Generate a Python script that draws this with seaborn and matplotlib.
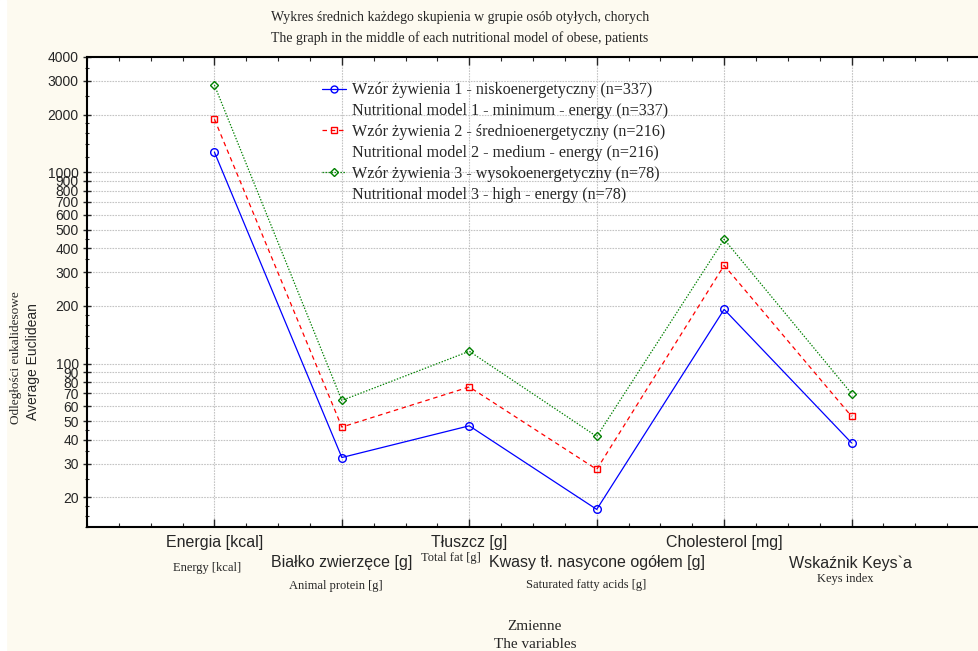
import numpy as np
import pandas as pd
import matplotlib
matplotlib.use("Agg")
import matplotlib.pyplot as plt
import matplotlib.ticker as mticker
from matplotlib.lines import Line2D
from matplotlib.patches import Rectangle
import seaborn as sns

# ---- data ----
categories_pl = ["Energia [kcal]", "Białko zwierzęce [g]", "Tłuszcz [g]",
                 "Kwasy tł. nasycone ogółem [g]", "Cholesterol [mg]", "Wskaźnik Keys`a"]
categories_en = ["Energy [kcal]", "Animal protein [g]", "Total fat [g]",
                 "Saturated fatty acids [g]", "", "Keys index"]
model_names = ["Wzór żywienia 1 - niskoenergetyczny (n=337)",
               "Wzór żywienia 2 - średnioenergetyczny (n=216)",
               "Wzór żywienia 3 - wysokoenergetyczny (n=78)"]
model_names_en = ["Nutritional model 1 - minimum - energy (n=337)",
                  "Nutritional model 2 - medium - energy (n=216)",
                  "Nutritional model 3 - high - energy (n=78)"]
model1 = [1273, 32.3, 47.3, 17.3, 192, 38.5]
model2 = [1894, 46.6, 75.5, 28.0, 326, 53.0]
model3 = [2852, 64.2, 116, 41.6, 446, 69.7]
y_ticks = [20, 30, 40, 50, 60, 70, 80, 90, 100, 200, 300, 400, 500, 600, 700,
           800, 900, 1000, 2000, 3000, 4000]

positions = np.arange(1, len(categories_pl) + 1)
rows = []
for name, vals in zip(model_names, [model1, model2, model3]):
    for p, v in zip(positions, vals):
        rows.append({"pos": p, "value": v, "model": name})
df = pd.DataFrame(rows)

colors = ["#0000FF", "#FF0000", "#008000"]
marks = ["o", "s", "D"]
dash_styles = ["", (3.6, 3.0), (1.1, 1.3)]

sns.set_style("white")
plt.rcParams["font.family"] = ["Liberation Sans", "DejaVu Sans"]

fig = plt.figure(figsize=(9.79, 6.51), dpi=100)
fig.patch.set_facecolor("#FDFAF0")
fig.patches.append(Rectangle((0, 0), 6 / 979, 1, transform=fig.transFigure,
                             color="white", zorder=0))
ax = fig.add_axes([87 / 979, 1 - 527 / 651, 1 - 87 / 979, (527 - 57) / 651])
ax.set_facecolor("white")

sns.lineplot(data=df, x="pos", y="value", hue="model", style="model",
             palette=dict(zip(model_names, colors)),
             markers=dict(zip(model_names, marks)),
             dashes=dict(zip(model_names, dash_styles)),
             linewidth=0.9, markersize=5.5, legend=False, ax=ax)
for ln, m, c in zip(ax.lines, marks, colors):
    ln.set_markerfacecolor("none")
    ln.set_markeredgecolor(c)
    ln.set_markeredgewidth(1.0)
    if m == "D":
        ln.set_markersize(4)
    if m == "s":
        ln.set_markersize(5)

ax.set_yscale("log")
ax.set_ylim(14, 4000)
ax.set_xlim(0, 7)
ax.yaxis.set_major_locator(mticker.FixedLocator(y_ticks))
ax.yaxis.set_major_formatter(mticker.FixedFormatter([str(t) for t in y_ticks]))
minor_y = [v * 10 ** d for d in range(1, 4) for v in (1.2, 1.4, 1.6, 1.8, 2.5, 3.5, 4.5)]
ax.yaxis.set_minor_locator(mticker.FixedLocator(minor_y))
ax.yaxis.set_minor_formatter(mticker.NullFormatter())
ax.set_xticks(positions)
ax.set_xticklabels([])
ax.xaxis.set_minor_locator(mticker.MultipleLocator(0.25))
ax.tick_params(axis="y", which="major", direction="inout", length=6, width=1,
               labelsize=10, pad=3, left=True)
ax.tick_params(axis="y", which="minor", direction="inout", length=3, width=0.8, left=True)
ax.tick_params(axis="x", which="major", direction="in", length=6, width=1,
               top=True, bottom=True)
ax.tick_params(axis="x", which="minor", direction="in", length=3, width=0.8,
               top=True, bottom=True)
ax.grid(True, which="major", color="#C4C4C4", linestyle=(0, (1.5, 1.0)), linewidth=0.8)
ax.set_axisbelow(True)
ax.set_xlabel("")
ax.set_ylabel("")
for s in ["left", "bottom", "top"]:
    ax.spines[s].set_color("black")
    ax.spines[s].set_linewidth(1.5)
ax.spines["right"].set_visible(False)

# x category labels
pl_offsets = [(0, -16), (0, -36), (0, -16), (0, -36), (0, -16), (-1, -36)]
en_offsets = [(-7, -41), (-6, -59), (-18, -31), (-11, -58), (0, -58), (-6, -52)]
for p, lab, off in zip(positions, categories_pl, pl_offsets):
    ax.annotate(lab, xy=(p, 0), xycoords=("data", "axes fraction"),
                xytext=off, textcoords="offset pixels", ha="center", va="center",
                fontsize=11.5, family=["Liberation Sans", "DejaVu Sans"])
for p, lab, off in zip(positions, categories_en, en_offsets):
    ax.annotate(lab, xy=(p, 0), xycoords=("data", "axes fraction"),
                xytext=off, textcoords="offset pixels", ha="center", va="center",
                fontsize=9, family=["Liberation Serif", "DejaVu Serif"])

serif = ["Liberation Serif", "DejaVu Serif"]
fig.text(460 / 979, 1 - 17 / 651, "Wykres średnich każdego skupienia w grupie osób otyłych, chorych",
         ha="center", va="center", fontsize=10, family=serif)
fig.text(460 / 979, 1 - 38 / 651, "The graph in the middle of each nutritional model of obese, patients",
         ha="center", va="center", fontsize=10, family=serif)
fig.text(16 / 979, 1 - 358 / 651, "Odległości eukalidesowe", rotation=90,
         ha="center", va="center", fontsize=9.5, family=serif)
fig.text(33 / 979, 1 - 362 / 651, "Average Euclidean", rotation=90,
         ha="center", va="center", fontsize=10, family=["Liberation Sans", "DejaVu Sans"])
fig.text(535 / 979, 1 - 626 / 651, "Zmienne", ha="center", va="center",
         fontsize=11, family=serif)
fig.text(535 / 979, 1 - 645 / 651, "The variables", ha="center", va="center",
         fontsize=11, family=serif)

# legend
handles, labels = [], []
for name, name_en, c, m, d in zip(model_names, model_names_en, colors, marks, dash_styles):
    h = Line2D([], [], color=c, marker=m, markerfacecolor="none", markeredgecolor=c,
               markersize=5 if m != "D" else 4, linewidth=0.9,
               linestyle="-" if d == "" else (0, d))
    handles.append(h)
    labels.append(name)
    handles.append(Line2D([], [], linestyle="none"))
    labels.append(name_en)
leg = ax.legend(handles, labels, loc="upper left", bbox_to_anchor=(0.263, 0.946),
                frameon=False, handlelength=1.5, handletextpad=0.4, labelspacing=0.30,
                borderaxespad=0, borderpad=0,
                prop={"family": serif, "size": 11.6})

fig.savefig("out.png", dpi=100, facecolor=fig.get_facecolor())
